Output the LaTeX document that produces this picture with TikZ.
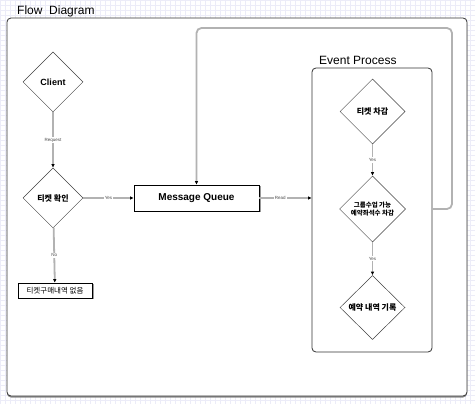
\documentclass[tikz,border=0pt]{standalone}
\usepackage{fontspec}
\setmainfont{Liberation Sans}
\newfontfamily\kr{Noto Sans CJK KR}
\usetikzlibrary{shapes.geometric,arrows.meta,shadows}

\definecolor{gridc}{RGB}{236,236,248}
\definecolor{linec}{RGB}{178,178,178}

\tikzset{
    decision/.style={diamond, draw=black!75, line width=0.5pt, fill=white,
        minimum width=60pt, minimum height=60pt, inner sep=0pt, align=center,
        font=\kr\bfseries\fontsize{8}{9}\selectfont},
    block/.style={rectangle, draw=black, line width=0.8pt, fill=white,
        drop shadow={shadow xshift=1.5pt, shadow yshift=-1.5pt, fill=black!40, opacity=1}},
    conn/.style={draw=linec, line width=1.8pt, -{Latex[black, length=3.5pt, width=3.5pt]}},
    connlabel/.style={fill=white, inner sep=1pt, text=black!70, font=\fontsize{4.5}{5}\selectfont},
    group/.style={draw=black!80, line width=0.8pt, rounded corners=4pt},
    grouptitle/.style={anchor=base west, inner sep=0pt, font=\fontsize{12}{14}\selectfont}
}

\begin{document}
\begin{tikzpicture}[x=1pt,y=-1pt]
        \useasboundingbox (0,0) rectangle (475,404);
        % Draw background grid
        \fill[white] (0,0) rectangle (475,404);
        \draw[gridc, step=5pt, line width=0.4pt] (0,0) grid (475,404);

        % Draw outer frame
        \node[group, fill=white, minimum width=460pt, minimum height=378pt,
            drop shadow={shadow xshift=0pt, shadow yshift=-1.5pt, fill=black!45, opacity=1}] (outer) at (237,207) {};
        \node[grouptitle] (outertitle) at (17,15) {Flow\ \ Diagram};

        % Draw event process frame
        \node[group, minimum width=120pt, minimum height=284pt] (evt) at (372,210) {};
        \node[grouptitle] (evttitle) at (319,65) {Event Process};

        % Left column
        \node[decision, font=\bfseries\fontsize{9}{10}\selectfont] (client) at (53,82) {Client};
        \node[decision] (check) at (53,198) {티켓 확인};
        \node[block, line width=0.6pt, minimum width=74pt, minimum height=15pt, inner sep=0pt,
            font=\kr\fontsize{7.5}{8}\selectfont] (nobuy) at (55,290.5) {티켓구매내역 없음};

        % Queue
        \node[block, minimum width=125pt, minimum height=26pt,
            font=\bfseries\fontsize{10}{12}\selectfont] (mq) at (196.5,198) {Message Queue};

        % Event process steps
        \node[decision, minimum width=65pt, minimum height=65pt] (deduct) at (372.5,111.5) {티켓 차감};
        \node[decision, minimum width=66pt, minimum height=66pt,
            font=\kr\bfseries\fontsize{6.5}{8}\selectfont] (group) at (372.5,209) {그룹수업 가능\\예약좌석수 차감};
        \node[decision, minimum width=65pt, minimum height=64pt] (record) at (372.5,307.5) {예약 내역 기록};

        % Draw connectors
        \coordinate (fbcorner) at (452,28);
        \draw[conn] (client) -- node[connlabel]{Request} (check);
        \draw[conn] (check) -- node[connlabel]{Yes} (mq);
        \draw[conn] (check) -- node[connlabel]{No} (nobuy);
        \draw[conn] (mq.east) -- node[connlabel, pos=0.4]{Read} (mq.east -| evt.west);
        \draw[conn] (deduct) -- node[connlabel]{Yes} (group);
        \draw[conn] (group) -- node[connlabel]{Yes} (record);
        \draw[conn, rounded corners=5pt] (group.east -| evt.east) -| (fbcorner) -| (mq.north);
    \end{tikzpicture}
\end{document}
